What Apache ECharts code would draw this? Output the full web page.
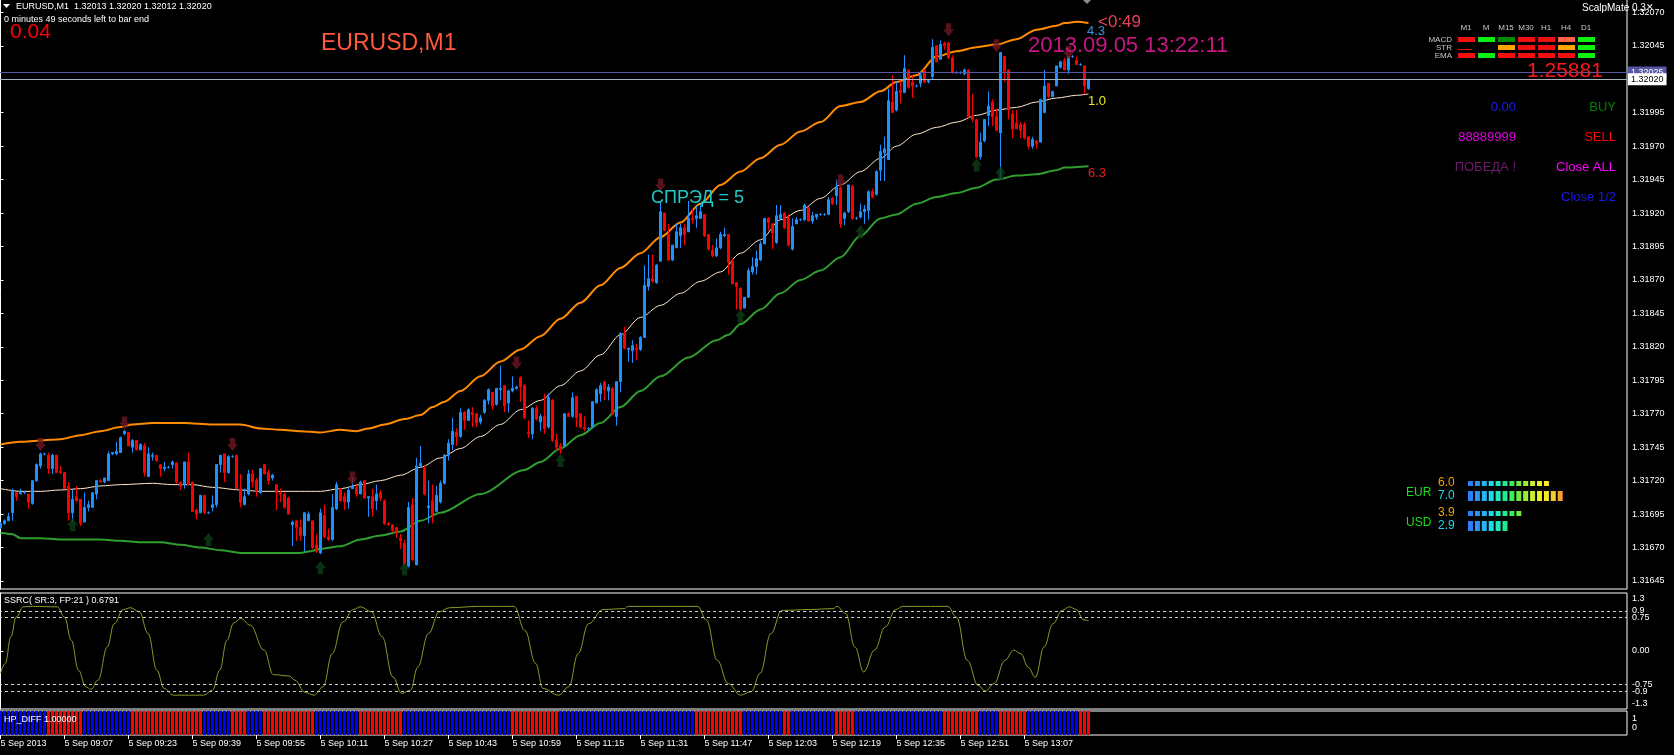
<!DOCTYPE html>
<html>
<head>
<meta charset="utf-8">
<title>EURUSD,M1</title>
<script src="https://cdn.jsdelivr.net/npm/echarts@6.0.0/dist/echarts.min.js"></script>
<style>
html, body { margin: 0; padding: 0; background: #000; }
#chart { width: 1674px; height: 755px; }
</style>
</head>
<body>
<div id="chart"></div>
<script>
// one bar = one minute, bar 0 = 5 Sep 2013 08:51
const tickBars = [0, 16, 32, 48, 64, 80, 96, 112, 128, 144, 160, 176, 192, 208, 224, 240, 256]
const tickTexts = ['5 Sep 2013', '5 Sep 09:07', '5 Sep 09:23', '5 Sep 09:39', '5 Sep 09:55', '5 Sep 10:11',
  '5 Sep 10:27', '5 Sep 10:43', '5 Sep 10:59', '5 Sep 11:15', '5 Sep 11:31', '5 Sep 11:47', '5 Sep 12:03',
  '5 Sep 12:19', '5 Sep 12:35', '5 Sep 12:51', '5 Sep 13:07']
const priceTicks = [1.31645, 1.31670, 1.31695, 1.31720, 1.31745, 1.31770, 1.31795, 1.31820, 1.31845,
  1.31870, 1.31895, 1.31920, 1.31945, 1.31970, 1.31995, 1.32020, 1.32045, 1.32070]

// [open, high, low, close]
const ohlc = [
  [1.31685,1.31689,1.31684,1.31688],[1.31688,1.31691,1.31687,1.31690],[1.31690,1.31696,1.31690,1.31693],[1.31696,1.31714,1.31690,1.31712],
  [1.31711,1.31711,1.31705,1.31708],[1.31710,1.31714,1.31710,1.31711],[1.31711,1.31712,1.31710,1.31711],[1.31710,1.31710,1.31699,1.31704],
  [1.31703,1.31720,1.31702,1.31720],[1.31720,1.31733,1.31719,1.31732],[1.31731,1.31741,1.31729,1.31740],[1.31740,1.31741,1.31739,1.31740],
  [1.31739,1.31741,1.31725,1.31729],[1.31729,1.31740,1.31725,1.31739],[1.31739,1.31739,1.31726,1.31726],[1.31727,1.31731,1.31725,1.31726],
  [1.31726,1.31726,1.31714,1.31714],[1.31716,1.31719,1.31690,1.31696],[1.31696,1.31713,1.31689,1.31706],[1.31708,1.31716,1.31704,1.31705],
  [1.31706,1.31706,1.31686,1.31688],[1.31689,1.31711,1.31689,1.31700],[1.31700,1.31705,1.31697,1.31702],[1.31700,1.31711,1.31700,1.31711],
  [1.31710,1.31720,1.31706,1.31720],[1.31720,1.31721,1.31719,1.31719],[1.31719,1.31722,1.31718,1.31722],[1.31720,1.31742,1.31720,1.31740],
  [1.31740,1.31741,1.31739,1.31741],[1.31740,1.31749,1.31739,1.31742],[1.31741,1.31753,1.31741,1.31752],[1.31755,1.31758,1.31754,1.31757],
  [1.31756,1.31756,1.31746,1.31746],[1.31745,1.31751,1.31741,1.31750],[1.31750,1.31750,1.31743,1.31743],[1.31743,1.31748,1.31743,1.31747],
  [1.31746,1.31748,1.31723,1.31726],[1.31723,1.31745,1.31723,1.31740],[1.31738,1.31741,1.31735,1.31739],[1.31739,1.31739,1.31734,1.31735],
  [1.31732,1.31732,1.31723,1.31729],[1.31729,1.31734,1.31727,1.31730],[1.31730,1.31731,1.31729,1.31730],[1.31732,1.31735,1.31729,1.31734],
  [1.31733,1.31734,1.31718,1.31719],[1.31719,1.31719,1.31713,1.31716],[1.31717,1.31734,1.31714,1.31734],[1.31734,1.31741,1.31717,1.31717],
  [1.31719,1.31719,1.31697,1.31697],[1.31698,1.31699,1.31691,1.31695],[1.31696,1.31709,1.31696,1.31709],[1.31709,1.31709,1.31695,1.31696],
  [1.31696,1.31697,1.31695,1.31696],[1.31700,1.31709,1.31697,1.31702],[1.31702,1.31732,1.31700,1.31732],[1.31732,1.31739,1.31726,1.31739],
  [1.31740,1.31740,1.31719,1.31726],[1.31726,1.31739,1.31725,1.31738],[1.31738,1.31739,1.31737,1.31738],[1.31739,1.31739,1.31714,1.31714],
  [1.31714,1.31725,1.31700,1.31704],[1.31702,1.31714,1.31702,1.31708],[1.31710,1.31728,1.31709,1.31725],[1.31725,1.31728,1.31715,1.31719],
  [1.31720,1.31722,1.31708,1.31712],[1.31711,1.31729,1.31710,1.31729],[1.31732,1.31732,1.31725,1.31725],[1.31726,1.31728,1.31717,1.31720],
  [1.31722,1.31725,1.31720,1.31724],[1.31717,1.31717,1.31698,1.31711],[1.31711,1.31714,1.31704,1.31710],[1.31710,1.31711,1.31699,1.31700],
  [1.31707,1.31708,1.31695,1.31695],[1.31687,1.31690,1.31671,1.31689],[1.31690,1.31690,1.31675,1.31685],[1.31685,1.31691,1.31675,1.31679],
  [1.31679,1.31696,1.31667,1.31696],[1.31690,1.31697,1.31690,1.31695],[1.31690,1.31690,1.31669,1.31670],[1.31672,1.31680,1.31666,1.31667],
  [1.31666,1.31699,1.31665,1.31696],[1.31694,1.31702,1.31677,1.31678],[1.31678,1.31684,1.31675,1.31676],[1.31676,1.31710,1.31675,1.31700],
  [1.31699,1.31719,1.31698,1.31717],[1.31714,1.31714,1.31704,1.31705],[1.31708,1.31711,1.31698,1.31704],[1.31704,1.31715,1.31699,1.31713],
  [1.31714,1.31722,1.31714,1.31716],[1.31715,1.31717,1.31708,1.31710],[1.31710,1.31720,1.31710,1.31719],[1.31720,1.31720,1.31707,1.31707],
  [1.31707,1.31708,1.31693,1.31708],[1.31708,1.31714,1.31693,1.31699],[1.31705,1.31717,1.31698,1.31710],[1.31711,1.31713,1.31705,1.31707],
  [1.31705,1.31706,1.31687,1.31688],[1.31688,1.31689,1.31686,1.31687],[1.31687,1.31687,1.31681,1.31683],[1.31685,1.31685,1.31677,1.31682],
  [1.31677,1.31680,1.31669,1.31675],[1.31673,1.31676,1.31657,1.31657],[1.31656,1.31704,1.31655,1.31700],[1.31702,1.31707,1.31660,1.31661],
  [1.31657,1.31737,1.31657,1.31731],[1.31731,1.31746,1.31730,1.31733],[1.31729,1.31731,1.31709,1.31710],[1.31700,1.31720,1.31688,1.31701],
  [1.31705,1.31717,1.31688,1.31695],[1.31697,1.31716,1.31697,1.31709],[1.31704,1.31720,1.31703,1.31718],[1.31718,1.31740,1.31717,1.31739],
  [1.31739,1.31751,1.31735,1.31748],[1.31747,1.31767,1.31743,1.31757],[1.31756,1.31759,1.31746,1.31753],[1.31753,1.31774,1.31752,1.31771],
  [1.31771,1.31772,1.31758,1.31765],[1.31765,1.31774,1.31765,1.31773],[1.31771,1.31775,1.31760,1.31769],[1.31770,1.31770,1.31760,1.31763],
  [1.31764,1.31769,1.31762,1.31767],[1.31771,1.31781,1.31770,1.31780],[1.31780,1.31789,1.31777,1.31788],[1.31786,1.31786,1.31773,1.31776],
  [1.31777,1.31789,1.31776,1.31789],[1.31788,1.31806,1.31780,1.31789],[1.31791,1.31791,1.31771,1.31776],[1.31778,1.31788,1.31771,1.31787],
  [1.31787,1.31798,1.31786,1.31789],[1.31789,1.31791,1.31788,1.31790],[1.31797,1.31798,1.31779,1.31790],[1.31791,1.31792,1.31766,1.31767],
  [1.31756,1.31765,1.31752,1.31755],[1.31755,1.31775,1.31751,1.31774],[1.31774,1.31776,1.31765,1.31766],[1.31764,1.31770,1.31757,1.31768],
  [1.31768,1.31785,1.31755,1.31759],[1.31760,1.31785,1.31759,1.31782],[1.31780,1.31781,1.31749,1.31750],[1.31750,1.31755,1.31743,1.31745],
  [1.31746,1.31748,1.31740,1.31743],[1.31746,1.31770,1.31745,1.31770],[1.31770,1.31771,1.31768,1.31768],[1.31768,1.31786,1.31767,1.31782],
  [1.31783,1.31783,1.31760,1.31767],[1.31770,1.31770,1.31759,1.31760],[1.31760,1.31768,1.31757,1.31759],[1.31759,1.31760,1.31758,1.31759],
  [1.31760,1.31779,1.31760,1.31779],[1.31778,1.31789,1.31778,1.31788],[1.31785,1.31793,1.31779,1.31791],[1.31794,1.31794,1.31780,1.31788],
  [1.31787,1.31792,1.31780,1.31790],[1.31789,1.31790,1.31769,1.31770],[1.31768,1.31794,1.31761,1.31794],[1.31794,1.31831,1.31786,1.31830],
  [1.31830,1.31835,1.31818,1.31819],[1.31818,1.31819,1.31809,1.31819],[1.31817,1.31825,1.31808,1.31821],[1.31819,1.31822,1.31810,1.31818],
  [1.31818,1.31828,1.31817,1.31827],[1.31827,1.31881,1.31827,1.31866],[1.31865,1.31889,1.31862,1.31871],[1.31871,1.31889,1.31868,1.31869],
  [1.31868,1.31882,1.31867,1.31881],[1.31884,1.31928,1.31884,1.31921],[1.31920,1.31920,1.31907,1.31907],[1.31904,1.31912,1.31884,1.31885],
  [1.31885,1.31896,1.31884,1.31896],[1.31894,1.31912,1.31894,1.31906],[1.31903,1.31912,1.31894,1.31909],[1.31909,1.31912,1.31896,1.31904],
  [1.31906,1.31929,1.31906,1.31916],[1.31916,1.31923,1.31912,1.31915],[1.31916,1.31925,1.31909,1.31918],[1.31916,1.31927,1.31916,1.31921],
  [1.31919,1.31919,1.31902,1.31903],[1.31904,1.31904,1.31892,1.31893],[1.31892,1.31896,1.31887,1.31888],[1.31888,1.31901,1.31887,1.31894],
  [1.31894,1.31906,1.31893,1.31904],[1.31903,1.31909,1.31902,1.31904],[1.31904,1.31904,1.31874,1.31883],[1.31884,1.31886,1.31867,1.31867],
  [1.31868,1.31868,1.31848,1.31865],[1.31864,1.31864,1.31847,1.31848],[1.31849,1.31857,1.31849,1.31857],[1.31857,1.31879,1.31857,1.31877],
  [1.31876,1.31887,1.31874,1.31880],[1.31880,1.31892,1.31874,1.31886],[1.31885,1.31899,1.31884,1.31897],[1.31897,1.31916,1.31897,1.31916],
  [1.31916,1.31917,1.31907,1.31913],[1.31912,1.31912,1.31893,1.31905],[1.31898,1.31926,1.31897,1.31918],[1.31916,1.31926,1.31915,1.31919],
  [1.31920,1.31921,1.31908,1.31909],[1.31916,1.31919,1.31895,1.31896],[1.31893,1.31916,1.31892,1.31910],[1.31912,1.31917,1.31912,1.31915],
  [1.31915,1.31916,1.31914,1.31915],[1.31915,1.31927,1.31914,1.31926],[1.31924,1.31924,1.31914,1.31914],[1.31914,1.31921,1.31912,1.31918],
  [1.31917,1.31919,1.31915,1.31919],[1.31919,1.31920,1.31918,1.31919],[1.31919,1.31920,1.31918,1.31919],[1.31919,1.31932,1.31919,1.31930],
  [1.31931,1.31932,1.31926,1.31927],[1.31933,1.31945,1.31926,1.31939],[1.31939,1.31940,1.31909,1.31912],[1.31916,1.31921,1.31911,1.31920],
  [1.31921,1.31941,1.31920,1.31941],[1.31940,1.31941,1.31915,1.31916],[1.31916,1.31917,1.31915,1.31916],[1.31917,1.31927,1.31916,1.31921],
  [1.31921,1.31926,1.31912,1.31923],[1.31922,1.31937,1.31915,1.31936],[1.31936,1.31938,1.31931,1.31932],[1.31934,1.31952,1.31933,1.31951],
  [1.31952,1.31971,1.31944,1.31966],[1.31965,1.31977,1.31944,1.31968],[1.31960,1.32013,1.31960,1.32004],[1.32003,1.32023,1.31995,1.31995],
  [1.31997,1.32018,1.31996,1.32011],[1.32012,1.32019,1.32002,1.32010],[1.32010,1.32038,1.32010,1.32028],[1.32027,1.32027,1.32013,1.32014],
  [1.32018,1.32023,1.32006,1.32015],[1.32015,1.32016,1.32014,1.32015],[1.32017,1.32025,1.32014,1.32023],[1.32027,1.32027,1.32017,1.32018],
  [1.32018,1.32020,1.32017,1.32019],[1.32022,1.32050,1.32020,1.32044],[1.32045,1.32045,1.32033,1.32033],[1.32035,1.32049,1.32035,1.32046],
  [1.32047,1.32048,1.32042,1.32045],[1.32047,1.32048,1.32035,1.32036],[1.32036,1.32038,1.32024,1.32025],[1.32025,1.32026,1.32024,1.32025],
  [1.32025,1.32026,1.32024,1.32025],[1.32024,1.32028,1.32023,1.32027],[1.32027,1.32027,1.31991,1.31992],[1.31993,1.32009,1.31988,1.31990],
  [1.31990,1.31990,1.31961,1.31962],[1.31962,1.31980,1.31960,1.31973],[1.31974,1.31990,1.31973,1.31990],[1.31993,1.32011,1.31985,1.32000],
  [1.32003,1.32005,1.31985,1.31992],[1.31992,1.31998,1.31981,1.31982],[1.31980,1.32040,1.31945,1.32040],[1.32037,1.32037,1.32018,1.32026],
  [1.32027,1.32027,1.31990,1.31997],[1.31994,1.31997,1.31976,1.31983],[1.31987,1.31997,1.31983,1.31983],[1.31986,1.31988,1.31976,1.31982],
  [1.31986,1.31988,1.31975,1.31976],[1.31977,1.31977,1.31968,1.31970],[1.31970,1.31977,1.31968,1.31975],[1.31974,1.31974,1.31968,1.31972],
  [1.31973,1.32005,1.31973,1.32005],[1.31995,1.32027,1.31995,1.32015],[1.32017,1.32017,1.32006,1.32007],[1.32007,1.32011,1.32007,1.32011],
  [1.32015,1.32030,1.32015,1.32030],[1.32029,1.32034,1.32028,1.32033],[1.32034,1.32036,1.32027,1.32027],[1.32027,1.32037,1.32024,1.32037],
  [1.32037,1.32038,1.32036,1.32037],[1.32034,1.32037,1.32031,1.32031],[1.32031,1.32032,1.32030,1.32031],[1.32030,1.32030,1.32009,1.32015],
  [1.32013,1.32020,1.32012,1.32020]
]

// envelope lines: [bar, price]
const upperBand = [[0,1.31747],[5,1.31749],[10,1.31750],[15,1.31751],[20,1.31754],[25,1.31757],[30,1.31760],[33,1.31762],
  [38,1.31763],[46,1.31763],[53,1.31762],[60,1.31762],[65,1.31759],[70,1.31758],[75,1.31757],[80,1.31756],[85,1.31758],
  [89,1.31757],[92,1.31759],[96,1.31762],[101,1.31766],[105,1.31769],[108,1.31775],[111,1.31779],[115,1.31787],[120,1.31798],
  [125,1.31809],[130,1.31818],[135,1.31828],[140,1.31841],[145,1.31853],[150,1.31866],[155,1.31879],[160,1.31890],
  [165,1.31902],[170,1.31913],[175,1.31927],[180,1.31941],[185,1.31951],[190,1.31961],[195,1.31971],[200,1.31981],
  [205,1.31988],[210,1.32000],[215,1.32003],[220,1.32011],[224,1.32018],[229,1.32023],[234,1.32037],[239,1.32041],
  [244,1.32044],[249,1.32046],[254,1.32050],[259,1.32057],[264,1.32060],[266,1.32062],[269,1.32063],[272,1.32062]]
const midLine = [[0,1.31714],[5,1.31712],[10,1.31712],[15,1.31713],[20,1.31714],[25,1.31716],[30,1.31717],[38,1.31718],
  [43,1.31717],[48,1.31717],[53,1.31715],[60,1.31713],[65,1.31712],[75,1.31712],[80,1.31712],[85,1.31714],[90,1.31717],
  [95,1.31720],[100,1.31724],[105,1.31730],[110,1.31737],[115,1.31744],[120,1.31753],[125,1.31762],[130,1.31773],
  [135,1.31780],[140,1.31791],[145,1.31802],[150,1.31814],[155,1.31829],[160,1.31842],[165,1.31851],[170,1.31860],
  [175,1.31869],[180,1.31876],[185,1.31890],[190,1.31900],[195,1.31915],[200,1.31922],[205,1.31931],
  [210,1.31941],[215,1.31951],[220,1.31961],[224,1.31970],[229,1.31979],[234,1.31984],[239,1.31988],[244,1.31993],
  [249,1.31997],[254,1.31999],[259,1.32003],[264,1.32006],[269,1.32008],[272,1.32009]]
const lowerBand = [[0,1.31681],[3,1.31680],[5,1.31677],[10,1.31677],[15,1.31676],[25,1.31676],[30,1.31675],[35,1.31674],
  [40,1.31674],[45,1.31672],[50,1.31670],[55,1.31668],[60,1.31666],[75,1.31666],[77,1.31667],[80,1.31669],[85,1.31671],
  [90,1.31676],[95,1.31679],[100,1.31682],[105,1.31690],[110,1.31696],[120,1.31710],[131,1.31728],[135,1.31734],
  [140,1.31744],[145,1.31754],[150,1.31763],[155,1.31775],[160,1.31787],[165,1.31798],[172,1.31812],[179,1.31825],
  [182,1.31829],[185,1.31837],[190,1.31848],[195,1.31860],[200,1.31870],[205,1.31877],[210,1.31887],[215,1.31903],
  [220,1.31916],[224,1.31919],[229,1.31927],[234,1.31932],[239,1.31935],[244,1.31939],[249,1.31945],[254,1.31948],
  [259,1.31949],[264,1.31952],[266,1.31954],[272,1.31955]]

// fractal arrows: [bar, price]
const downArrows = [[10,1.31747],[31,1.31763],[58,1.31747],[88,1.31722],[129,1.31808],[165,1.31941],[210,1.31944],
  [237,1.32057],[249,1.32045],[267,1.32040]]
const upArrows = [[18,1.31687],[52,1.31676],[80,1.31655],[101,1.31654],[140,1.31735],[185,1.31843],[215,1.31906],
  [244,1.31956],[250,1.31950]]

const askPrice = 1.32025
const bidPrice = 1.32020

// SSRC oscillator: [bar, value]
const ssrc = [[0,-0.50],[1.2,-0.28],[2.6,0.32],[3.9,0.76],[5.7,0.99],[8,1.0],[14.2,0.99],[16,0.76],[17.7,0.24],
  [19.5,-0.43],[21.3,-0.80],[22.6,-0.86],[24.4,-0.65],[26.7,0.09],[28.4,0.61],[30.7,0.93],[32.5,0.97],[34.7,0.88],
  [36.9,0.39],[39.1,-0.43],[40.9,-0.84],[43.2,-0.99],[50.8,-0.99],[53,-0.88],[54.8,-0.43],[56.6,0.24],[58.3,0.63],
  [60.1,0.73],[62.4,0.58],[65.9,0.02],[68.2,-0.53],[72.2,-0.56],[73.5,-0.65],[76.2,-0.93],[78.4,-0.99],[80.7,-0.80],
  [82.9,-0.06],[85.6,0.65],[88.2,0.93],[90,0.99],[92.7,0.88],[95.4,0.32],[98.1,-0.58],[100.3,-0.95],[102.5,-0.88],
  [104.3,-0.36],[107,0.39],[109.7,0.88],[112.3,0.97],[119.5,1.0],[128.4,1.0],[131.1,0.46],[133.8,-0.28],[135.6,-0.84],
  [139.5,-0.99],[142.1,-0.80],[144.4,-0.06],[147,0.61],[150.6,0.93],[156,0.95],[156.9,1.0],[174.3,1.0],[176.5,0.69],
  [179.2,-0.21],[181.9,-0.73],[185,-0.99],[187.7,-0.91],[189.9,-0.50],[192.6,0.39],[195.3,0.91],[202.4,0.93],
  [208.2,0.95],[209.1,1.0],[211.3,0.84],[213.6,0.09],[215.8,-0.47],[218.5,0.02],[221.2,0.54],[223.8,0.93],
  [225.6,1.0],[236.8,1.0],[239,0.76],[241.7,-0.21],[244.4,-0.77],[246.2,-0.90],[248.4,-0.73],[251.1,-0.21],
  [253.3,0.02],[255.1,-0.06],[256.9,-0.36],[258.7,-0.59],[260.9,0.09],[263.1,0.61],[265.4,0.91],[267.2,0.99],
  [269,0.93],[270.7,0.70],[272,0.68]]
const ssrcLevels = [0.9, 0.75, -0.75, -0.9]
const ssrcLabels = [1.3, 0.9, 0.75, 0, -0.75, -0.9, -1.3]

// HP_DIFF histogram as runs: [direction (1 up / -1 down), number of bars]
const hpRuns = [[1,12],[-1,9],[1,12],[-1,18],[1,7],[-1,4],[1,4],[-1,13],[1,11],[-1,11],[1,27],[-1,12],[1,34],
  [-1,12],[1,10],[-1,2],[1,11],[-1,5],[1,22],[-1,9],[1,5],[-1,7],[1,13],[-1,3]]

// ScalpMate panel
const tfNames = ['M1', 'M', 'M15', 'M30', 'H1', 'H4', 'D1']
const tfRows = ['MACD', 'STR', 'EMA']
// state per cell: 'r' red, 'g' lime, 'd' dark green, 'o' orange, 's' salmon, 'l' thin red line, '-' empty
const tfStates = [
  ['r', 'g', 'd', 'r', 'r', 's', 'g'],
  ['l', '-', 'o', 'r', 'r', 'o', 'g'],
  ['r', 'g', 'r', 'r', 'r', 'r', 'g']
]
const strengthNames = ['EUR', 'USD']
const strengthValues = [[6.0, 7.0], [3.9, 2.9]]
const strengthCells = [[12, 14], [8, 6]]

const X_MIN = -0.375
const X_MAX = 406.625
const FONT = '"Liberation Sans", Arial, sans-serif'

const candleData = ohlc.map((d, i) => [i, d[0], d[3], d[2], d[1]])
const hpData = []
hpRuns.forEach(([dir, n]) => {
  for (let k = 0; k < n; k++) {
    hpData.push({ value: [hpData.length, 1], itemStyle: { color: dir > 0 ? '#0000ff' : '#ff0000' } })
  }
})
const tickLabelOf = v => {
  const i = tickBars.indexOf(Math.round(v))
  return i >= 0 ? tickTexts[i] : ''
}

const txt = (text, x, y, color, size, align) => ({
  type: 'text', x: x, y: y, silent: true, z: 100,
  style: {
    text: text, fill: color, font: size + 'px ' + FONT,
    align: align || 'left', verticalAlign: 'middle',
    textAlign: align || 'left', textVerticalAlign: 'middle'
  }
})
const rect = (x, y, w, h, color) => ({
  type: 'rect', silent: true, z: 100,
  shape: { x: x, y: y, width: w, height: h }, style: { fill: color }
})

const graphics = []
// header
graphics.push({ type: 'polygon', silent: true, z: 100, shape: { points: [[3, 4], [10, 4], [6.5, 8]] }, style: { fill: '#fff' } })
graphics.push(txt('EURUSD,M1  1.32013 1.32020 1.32012 1.32020', 16, 6.5, '#fff', 9))
graphics.push(txt('0 minutes 49 seconds left to bar end', 4, 20, '#fff', 9))
graphics.push(txt('0.04', 10, 32, '#ff0000', 21))
graphics.push(txt('EURUSD,M1', 321, 44, '#ff5a3e', 23))
graphics.push(txt('2013.09.05 13:22:11', 1028, 46, '#c71585', 22))
graphics.push(txt('<0:49', 1098, 22, '#e8405a', 17))
graphics.push(txt('4.3', 1087, 31, '#3c8fe0', 13))
graphics.push(txt('1.0', 1088, 101, '#e8e820', 13))
graphics.push(txt('6.3', 1088, 173, '#e02020', 13))
graphics.push(txt('СПРЭД = 5', 651, 198, '#22c8c8', 18))
graphics.push({ type: 'polygon', silent: true, z: 100, shape: { points: [[1083, 0], [1091, 0], [1087, 4]] }, style: { fill: '#8a8a8a' } })
graphics.push(txt('ScalpMate 0.3', 1582, 8, '#fff', 10))
graphics.push(txt('✕', 1646, 8, '#fff', 9))

// timeframe table
const tfColor = { r: '#f01010', g: '#10f010', d: '#008a00', o: '#ffa500', s: '#ff6448' }
tfNames.forEach((n, c) => graphics.push(txt(n, 1466 + c * 20, 28, '#c8c8c8', 8, 'center')))
tfRows.forEach((n, r) => {
  graphics.push(txt(n, 1452, 39.5 + r * 8, '#c8c8c8', 8, 'right'))
  tfStates[r].forEach((s, c) => {
    const x = 1458 + c * 20
    const y = 37 + r * 8
    if (tfColor[s]) graphics.push(rect(x, y, 17, 5, tfColor[s]))
    if (s === 'l') graphics.push(rect(x, y + 4, 14, 1, '#f01010'))
  })
})
graphics.push(txt('1.25881', 1527, 71, '#ff1818', 21))

// order panel
graphics.push(txt('0.00', 1516, 107, '#1c1cf0', 13, 'right'))
graphics.push(txt('BUY', 1616, 107, '#008000', 13, 'right'))
graphics.push(txt('88889999', 1516, 137, '#e000e0', 13, 'right'))
graphics.push(txt('SELL', 1616, 137, '#ff0000', 13, 'right'))
graphics.push(txt('ПОБЕДА !', 1516, 167, '#701a6e', 13, 'right'))
graphics.push(txt('Close ALL', 1616, 167, '#ff00ff', 13, 'right'))
graphics.push(txt('Close 1/2', 1616, 197, '#1c1ce6', 13, 'right'))

// currency strength meter
const meterColors = ['#2f7df5', '#2a95f5', '#25b5f0', '#22d5f0', '#20e8c0', '#25e890', '#40ea55',
  '#70ea40', '#a0ec35', '#c8ee30', '#e8f028', '#f8e828', '#f8c830', '#f8a030']
strengthNames.forEach((n, k) => {
  const y0 = 483 + k * 30
  graphics.push(txt(n, 1406, y0 + 9.5, '#18e018', 12))
  graphics.push(txt(strengthValues[k][0].toFixed(1), 1438, y0, '#f0a000', 12))
  graphics.push(txt(strengthValues[k][1].toFixed(1), 1438, y0 + 13, '#20d8f0', 12))
  for (let c = 0; c < strengthCells[k][0]; c++) graphics.push(rect(1468 + c * 6.9, y0 - 2, 5, 5, meterColors[c]))
  for (let c = 0; c < strengthCells[k][1]; c++) graphics.push(rect(1468 + c * 6.9, y0 + 8, 5, 10, meterColors[c]))
})

// sub window captions
graphics.push(txt('SSRC( SR:3, FP:21 ) 0.6791', 4, 601, '#fff', 9))
graphics.push(txt('HP_DIFF 1.00000', 4, 719.5, '#fff', 9))

const chart = echarts.init(document.getElementById('chart'), null, { renderer: 'canvas' })
const hiddenX = gi => ({
  type: 'value', gridIndex: gi, min: X_MIN, max: X_MAX, show: false
})
chart.setOption({
  backgroundColor: '#000',
  animation: false,
  grid: [
    { left: -1, top: -1, width: 1628, height: 590, show: true, borderColor: '#fff', borderWidth: 1, outerBoundsMode: 'none' },
    { left: -1, top: 593, width: 1628, height: 116, show: true, borderColor: '#fff', borderWidth: 1, outerBoundsMode: 'none' },
    { left: -1, top: 711, width: 1628, height: 24, show: true, borderColor: '#fff', borderWidth: 1, outerBoundsMode: 'none' }
  ],
  xAxis: [
    hiddenX(0),
    hiddenX(1),
    {
      type: 'value', gridIndex: 2, min: X_MIN, max: X_MAX,
      axisLine: { show: false },
      splitLine: { show: false },
      axisTick: { show: true, customValues: tickBars, length: 4, lineStyle: { color: '#fff' } },
      axisLabel: {
        customValues: tickBars, formatter: tickLabelOf, color: '#fff', fontSize: 9,
        fontFamily: FONT, align: 'left', margin: 4, hideOverlap: false
      }
    }
  ],
  yAxis: [
    {
      type: 'value', gridIndex: 0, position: 'right', min: 1.31639, max: 1.32080,
      splitLine: { show: false },
      axisLine: { show: true, lineStyle: { color: '#fff' } },
      axisTick: { show: true, customValues: priceTicks, length: 3, lineStyle: { color: '#fff' } },
      axisLabel: { customValues: priceTicks, formatter: v => v.toFixed(5), color: '#fff', fontSize: 9, fontFamily: FONT, margin: 5 }
    },
    {
      type: 'value', gridIndex: 1, position: 'right', min: -1.3, max: 1.3,
      splitLine: { show: false },
      axisLine: { show: true, lineStyle: { color: '#fff' } },
      axisTick: { show: true, customValues: [0], length: 3, lineStyle: { color: '#fff' } },
      axisLabel: {
        customValues: ssrcLabels.map(v => Math.sign(v) * Math.min(Math.abs(v), 1.17)),
        formatter: v => {
          const a = Math.abs(v)
          if (a > 1) return v > 0 ? '1.3' : '-1.3'
          if (a === 0) return '0.00'
          return String(v)
        },
        color: '#fff', fontSize: 9, fontFamily: FONT, margin: 5
      }
    },
    {
      type: 'value', gridIndex: 2, position: 'right', min: 0, max: 1,
      splitLine: { show: false },
      axisLine: { show: true, lineStyle: { color: '#fff' } },
      axisTick: { show: false },
      axisLabel: { customValues: [0.7, 0.3], formatter: v => (v > 0.5 ? '1' : '0'), color: '#fff', fontSize: 9, fontFamily: FONT, margin: 5 }
    }
  ],
  series: [
    {
      type: 'line', xAxisIndex: 0, yAxisIndex: 0, data: upperBand, showSymbol: false,
      smooth: 0.3, smoothMonotone: 'x', lineStyle: { color: '#ff8c00', width: 2 }, z: 1,
      markLine: {
        silent: true, symbol: 'none', animation: false, precision: 5,
        label: { position: 'end', distance: 1, fontSize: 9, fontFamily: FONT, padding: [2, 3, 1, 3] },
        data: [
          { yAxis: askPrice, lineStyle: { color: '#5656a2', type: 'solid', width: 1 },
            label: { formatter: askPrice.toFixed(5), backgroundColor: '#5656a2', color: '#fff' } },
          { yAxis: bidPrice, lineStyle: { color: '#aab0c0', type: 'solid', width: 1 },
            label: { formatter: bidPrice.toFixed(5), backgroundColor: '#fff', color: '#000' } }
        ]
      }
    },
    {
      type: 'line', xAxisIndex: 0, yAxisIndex: 0, data: midLine, showSymbol: false,
      smooth: 0.3, smoothMonotone: 'x', lineStyle: { color: '#ffe8cc', width: 1 }, z: 1
    },
    {
      type: 'line', xAxisIndex: 0, yAxisIndex: 0, data: lowerBand, showSymbol: false,
      smooth: 0.3, smoothMonotone: 'x', lineStyle: { color: '#2f9e2f', width: 2 }, z: 1
    },
    {
      type: 'candlestick', xAxisIndex: 0, yAxisIndex: 0, data: candleData, barWidth: 3,
      dimensions: ['bar', 'open', 'close', 'lowest', 'highest'],
      encode: { x: 'bar', y: ['open', 'close', 'lowest', 'highest'] },
      itemStyle: { color: '#1e90ff', color0: '#ff0000', borderColor: '#1e90ff', borderColor0: '#ff0000', borderWidth: 1 },
      z: 3
    },
    {
      type: 'scatter', xAxisIndex: 0, yAxisIndex: 0, data: downArrows,
      symbol: 'path://M3,0 L9,0 L9,6 L12,6 L6,13 L0,6 L3,6 Z', symbolSize: [11, 13],
      itemStyle: { color: '#6e1622' }, z: 4
    },
    {
      type: 'scatter', xAxisIndex: 0, yAxisIndex: 0, data: upArrows,
      symbol: 'path://M6,0 L12,7 L9,7 L9,13 L3,13 L3,7 L0,7 Z', symbolSize: [11, 13],
      itemStyle: { color: '#0f3d16' }, z: 4
    },
    {
      type: 'line', xAxisIndex: 1, yAxisIndex: 1, data: ssrc, showSymbol: false,
      smooth: 0.4, smoothMonotone: 'x', lineStyle: { color: '#8a9a2a', width: 1 },
      markLine: {
        silent: true, symbol: 'none', animation: false, label: { show: false },
        lineStyle: { color: '#d0d0d0', type: [3, 3], width: 1 },
        data: ssrcLevels.map(v => ({ yAxis: v }))
      }
    },
    {
      type: 'bar', xAxisIndex: 2, yAxisIndex: 2, data: hpData, barWidth: 3
    }
  ],
  graphic: graphics
})
</script>
</body>
</html>
